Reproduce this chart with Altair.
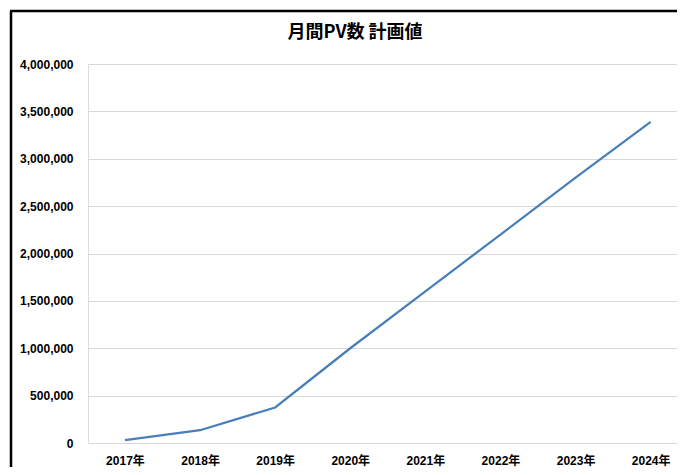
import altair as alt
import pandas as pd

years = ["2017年", "2018年", "2019年", "2020年", "2021年", "2022年", "2023年", "2024年"]
pv = [30000, 135000, 375000, 1000000, 1600000, 2200000, 2800000, 3390000]
y_ticks = [0, 500000, 1000000, 1500000, 2000000, 2500000, 3000000, 3500000, 4000000]
title_text = "月間PV数 計画値"

df = pd.DataFrame({"year": years, "pv": pv})
deco = pd.DataFrame({"k": [0]})

W, H = 589, 379
FONT = "Liberation Sans, Noto Sans CJK JP"

line = alt.Chart(df).mark_line(color="#4A7EBB", strokeWidth=2.25).encode(
    x=alt.X(
        "year:N",
        sort=years,
        scale=alt.Scale(type="point", padding=0.4214, align=0.584),
        axis=alt.Axis(
            title=None, labelAngle=0, ticks=False, domain=False, grid=False,
            labelPadding=12, labelFont=FONT, labelFontSize=12,
            labelFontWeight="bold", labelColor="#000000",
        ),
    ),
    y=alt.Y(
        "pv:Q",
        scale=alt.Scale(domain=[0, 4000000], nice=False),
        axis=alt.Axis(
            title=None, values=y_ticks, format=",.0f", ticks=False, tickSize=0,
            domain=False, grid=True, gridColor="#d9d9d9", gridWidth=1,
            labelPadding=15, labelFont=FONT, labelFontSize=12,
            labelFontWeight="bold", labelColor="#000000",
        ),
    ),
)

border_left = alt.Chart(deco).mark_rule(color="#000000", strokeWidth=2.5).encode(
    x=alt.value(-77), y=alt.value(-53), y2=alt.value(H + 40)
)
border_top = alt.Chart(deco).mark_rule(color="#000000", strokeWidth=2.5).encode(
    y=alt.value(-53), x=alt.value(-78), x2=alt.value(W + 20)
)
title_mark = alt.Chart(deco).mark_text(
    font="Noto Sans CJK JP", fontSize=18, fontWeight="bold", color="#000000",
    align="center", baseline="middle",
).encode(x=alt.value(267), y=alt.value(-31), text=alt.value(title_text))

chart = alt.layer(line, border_left, border_top, title_mark).properties(
    width=W,
    height=H,
    autosize=alt.AutoSizeParams(type="none"),
    padding={"left": 80, "top": 56, "right": 0, "bottom": 24},
).configure_view(stroke=None).configure(background="white")

chart.save("out.html", embed_options={"renderer": "svg", "actions": False})
